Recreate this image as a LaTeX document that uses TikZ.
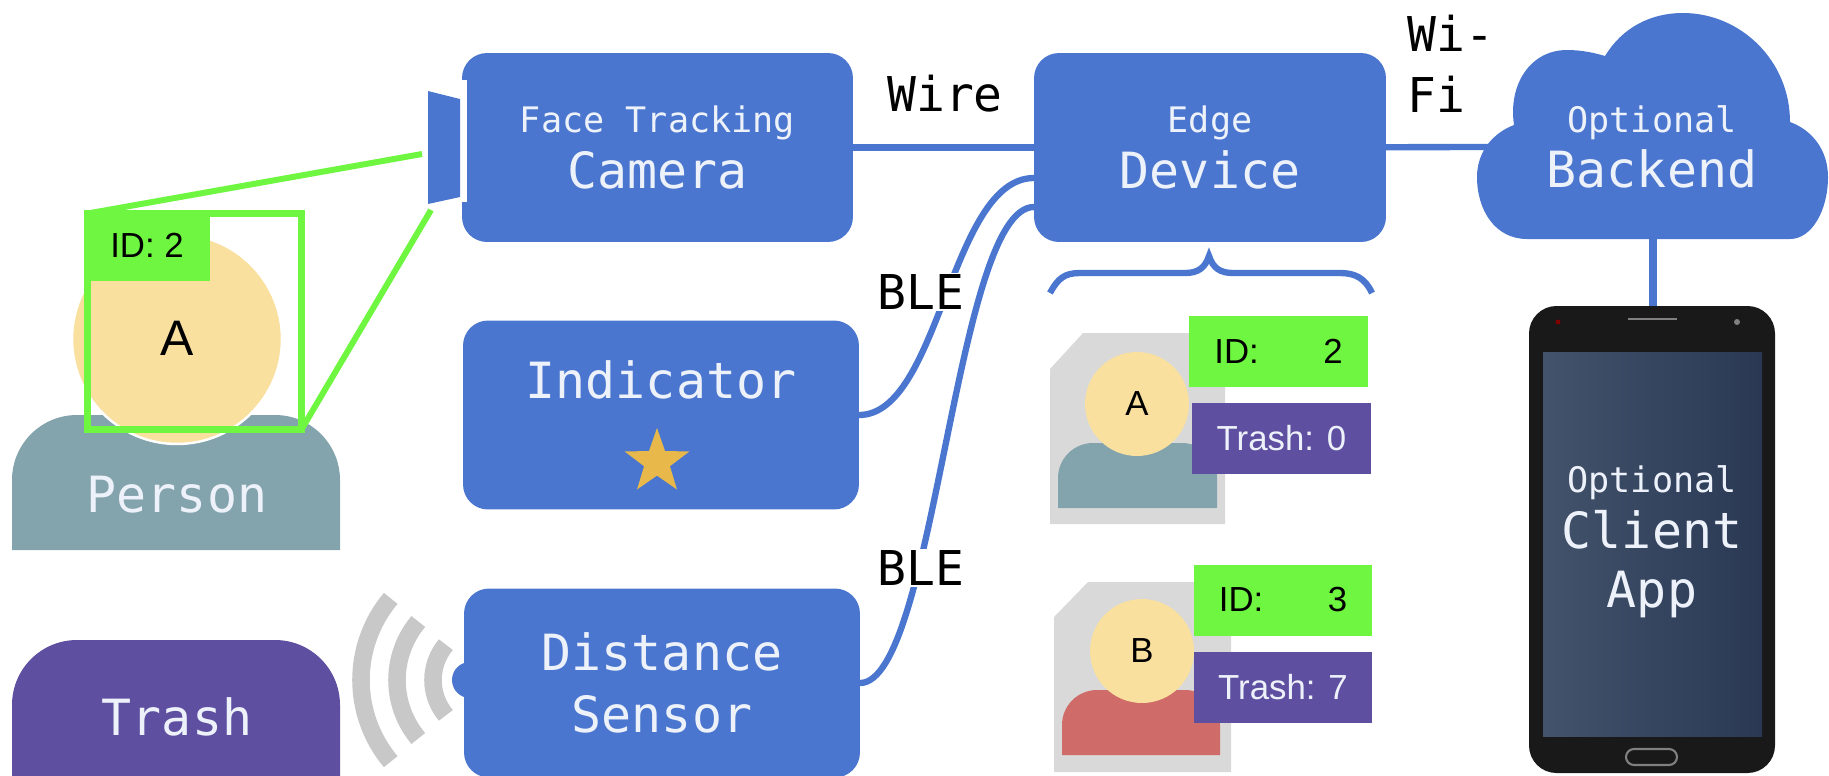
\documentclass[tikz,border=0pt]{standalone}
\usepackage{fontspec}
\setmainfont{Liberation Sans}
\setmonofont{DejaVu Sans Mono}
\usepackage{tikz}
\usetikzlibrary{shapes.geometric}
\definecolor{boxblue}{HTML}{4A76CF}
\definecolor{trashpurple}{HTML}{5F4FA0}
\definecolor{persongray}{HTML}{84A4AD}
\definecolor{personred}{HTML}{CF6B68}
\definecolor{headyellow}{HTML}{F9E09E}
\definecolor{facegreen}{HTML}{6EF640}
\definecolor{cardgray}{HTML}{D9D9D9}
\definecolor{wavegray}{HTML}{C8C8C8}
\definecolor{stargold}{HTML}{E8B94A}
\definecolor{softwhite}{HTML}{EDF1FA}
\definecolor{screenleft}{HTML}{42536B}
\definecolor{screenright}{HTML}{2A3854}
\newcommand{\smalltext}{\ttfamily\fontsize{20}{31}\selectfont}
\newcommand{\bigtext}{\ttfamily\fontsize{28.4}{31}\selectfont}
\newcommand{\linktext}{\ttfamily\fontsize{27.3}{35}\selectfont}
\newcommand{\cardtext}{\fontsize{19.8}{24}\selectfont}

\begin{document}
\begin{tikzpicture}[x=0.02cm, y=-0.02cm,
  bluebox/.style={fill=boxblue, rounded corners=0.5cm, minimum width=7.92cm, minimum height=3.78cm,
    inner sep=0pt, outer sep=0pt, text=softwhite, align=center},
  link/.style={draw=boxblue, line width=3.6pt},
  sight/.style={draw=facegreen, line width=3.4pt},
  head/.style={circle, fill=headyellow, inner sep=0pt, outer sep=0pt},
  idtag/.style={fill=facegreen, minimum width=3.58cm, minimum height=1.42cm, inner sep=0pt, text=black, font=\cardtext},
  trashtag/.style={fill=trashpurple, minimum width=3.58cm, minimum height=1.42cm, inner sep=0pt, text=softwhite, font=\cardtext},
  wave/.style={draw=wavegray, line width=10pt},
  linklabel/.style={inner sep=1pt, font=\linktext},
  whitetext/.style={inner sep=0pt, text=softwhite, align=center}]
\useasboundingbox (0,0) rectangle (1829,775);
\clip (0,0) rectangle (1829,775);

% Connection points
\coordinate (edgeInA) at (1034,178);
\coordinate (edgeInB) at (1034,207);
\coordinate (cloudIn) at (1495,147);
\coordinate (cloudOut) at (1653,235);
\coordinate (lensTop) at (422,154);
\coordinate (lensBot) at (431,210);

% Blue boxes
\node[bluebox] (camera) at (657.5,147.5) [minimum width=7.82cm] {\smalltext Face Tracking\\[5pt]\bigtext Camera};
\node[bluebox] (edge) at (1210,147.5) [minimum width=7.04cm] {\smalltext Edge\\[5pt]\bigtext Device};
\node[bluebox] (indicator) at (661,415) {};
\node[bluebox] (sensor) at (662,683) {\bigtext Distance\\[12.6pt]\bigtext Sensor};
\node[whitetext, font=\bigtext] (indicatortext) at (661,380) {Indicator};
\node[star, star points=5, star point ratio=2.5, fill=stargold, minimum size=1.36cm, inner sep=0pt] (starmark) at (657,462) {};

% Camera lens
\fill[white] (460,80) rectangle (467,202);
\fill[boxblue] (428,91) -- (460,99) -- (460,197) -- (428,204) -- cycle;

% Distance waves
\fill[boxblue] (470,680) circle (18);
\draw[wave] (488,680) ++(140:55) arc (140:220:55);
\draw[wave] (488,680) ++(140:91) arc (140:220:91);
\draw[wave] (488,680) ++(140:127) arc (140:220:127);

% Links
\draw[link] (camera) -- (edge);
\draw[link] (edge) -- (cloudIn);
\draw[link] (indicator.east) .. controls (940,415) and (950,178) .. (edgeInA);
\draw[link] (sensor.east) .. controls (935,683) and (955,207) .. (edgeInB);
\draw[draw=boxblue, line width=4.4pt] (cloudOut) -- (1653,310) coordinate (phoneIn);
\node[linklabel] (wire) at (945,94) {Wire};
\node[linklabel, fill=white] (bleA) at (921,292) {BLE};
\node[linklabel, fill=white] (bleB) at (921,568) {BLE};
\node[linklabel, align=left] (wifi) at (1451,64) {Wi-\\Fi};

% Cloud
\fill[boxblue] (1527,239) .. controls (1495,239) and (1477,210) .. (1477,177)
  .. controls (1477,150) and (1495,132) .. (1514,125)
  .. controls (1508,85) and (1530,50) .. (1567,50)
  .. controls (1582,50) and (1595,53) .. (1605,56)
  .. controls (1622,28) and (1650,13) .. (1683,13)
  .. controls (1740,13) and (1790,60) .. (1790,122)
  .. controls (1812,130) and (1828,150) .. (1828,177)
  .. controls (1828,210) and (1812,239) .. (1790,239) -- cycle;
\node[whitetext] (backend) at (1652,147) {\smalltext Optional\\[5pt]\bigtext Backend};

% Phone
\fill[black!90, rounded corners=0.55cm] (1529,306) rectangle (1775,773);
\shade[left color=screenleft, right color=screenright] (1543,352) rectangle (1762,736);
\draw[gray, line width=1.2pt] (1628,319) -- (1677,319);
\fill[red!50!black] (1558,322) circle (2.5);
\fill[gray] (1737,322) circle (3);
\draw[gray, line width=1.2pt, rounded corners=0.16cm] (1626,749) rectangle (1677,765);
\node[whitetext] (client) at (1652,542) {\smalltext Optional\\[5pt]\bigtext Client\\[11.3pt]\bigtext App};

% Person
\fill[persongray] (12,550) [rounded corners=1.3cm] -- (12,415) -- (340,415) [sharp corners] -- (340,550) -- cycle;
\node[head, draw=white, line width=1.4pt, minimum size=4.2cm] (headA) at (177,339) {};
\node[inner sep=0pt, font=\fontsize{28.4}{32}\selectfont] (letterA) at (177,338) {A};
\node[draw=facegreen, line width=4pt, inner sep=0pt, outer sep=0pt, minimum width=4.28cm, minimum height=4.32cm] (facebox) at (194.5,321.5) {};
\node[fill=facegreen, inner sep=0pt, minimum width=2.52cm, minimum height=1.42cm, font=\cardtext] (facetag) at (147,245.5) {ID: 2};
\node[whitetext, font=\bigtext] (persontext) at (177,495) {Person};
\draw[sight] (facebox.north west) -- (lensTop);
\draw[sight] (facebox.south east) -- (lensBot);

% Trash
\fill[trashpurple] (12,790) [rounded corners=1.3cm] -- (12,640) -- (340,640) [sharp corners] -- (340,790) -- cycle;
\node[whitetext, font=\bigtext] (trashtext) at (177,717) {Trash};

% Brace
\draw[link] (1050,293) .. controls (1058,278) and (1065,273) .. (1080,273) -- (1185,273)
  .. controls (1198,273) and (1205,268) .. (1209,256) .. controls (1213,268) and (1220,273) .. (1233,273)
  -- (1340,273) .. controls (1355,273) and (1365,278) .. (1372,293);

% Card A
\fill[cardgray] (1050,369) -- (1083,333) -- (1225,333) -- (1225,524) -- (1050,524) -- cycle;
\fill[persongray] (1058,508) [rounded corners=0.7cm] -- (1058,443) -- (1217,443) [sharp corners] -- (1217,508) -- cycle;
\node[head, minimum size=2.08cm, font=\cardtext] (cardheadA) at (1137,404) {A};
\node[idtag] (idA) at (1278.5,351) {ID:\hspace{1.85em}2};
\node[trashtag] (trashA) at (1281.5,438) {Trash: 0};

% Card B
\fill[cardgray] (1054,617) -- (1088,582) -- (1231,582) -- (1231,772) -- (1054,772) -- cycle;
\fill[personred] (1062,755) [rounded corners=0.7cm] -- (1062,690) -- (1220,690) [sharp corners] -- (1220,755) -- cycle;
\node[head, minimum size=2.08cm, font=\cardtext] (cardheadB) at (1142,651) {B};
\node[idtag] (idB) at (1283,600) {ID:\hspace{1.85em}3};
\node[trashtag] (trashB) at (1283,687) {Trash: 7};
\end{tikzpicture}
\end{document}
